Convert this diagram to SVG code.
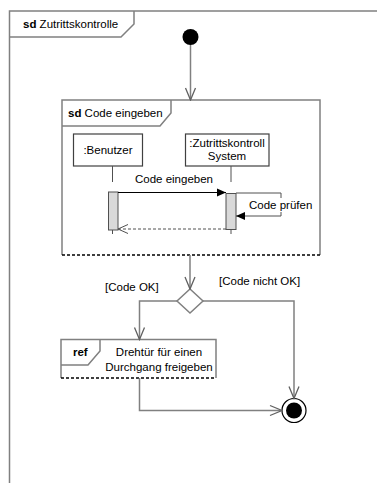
<svg xmlns="http://www.w3.org/2000/svg" width="377" height="483" viewBox="0 0 377 483">
<style>
text{font-family:"Liberation Sans",Arial,sans-serif;font-size:11.5px;fill:#000}
.b{font-weight:bold}
.fr{fill:none;stroke:#808080;stroke-width:1.5}
.box{fill:#fff;stroke:#404040;stroke-width:1.2}
.flow{fill:none;stroke:#808080;stroke-width:1.5}
.dash{fill:none;stroke:#000;stroke-width:1.5;stroke-dasharray:3,2}
.act{fill:#d9d9d9;stroke:#505050;stroke-width:1}
.ll{fill:none;stroke:#505050;stroke-width:1}
</style>
<defs>
<marker id="open" markerUnits="userSpaceOnUse" markerWidth="14" markerHeight="14" viewBox="0 0 14 14" refX="13" refY="7" orient="auto">
<path d="M1,2 L13,7 L1,12" fill="none" stroke="#606060" stroke-width="1.3"/>
</marker>
<marker id="fill" markerUnits="userSpaceOnUse" markerWidth="10" markerHeight="10" viewBox="0 0 10 10" refX="9" refY="5" orient="auto">
<path d="M0,1 L9,5 L0,9 Z" fill="#000"/>
</marker>
<marker id="ret" markerUnits="userSpaceOnUse" markerWidth="12" markerHeight="12" viewBox="0 0 12 12" refX="11" refY="6" orient="auto">
<path d="M1,1.5 L11,6 L1,10.5" fill="none" stroke="#505050" stroke-width="1"/>
</marker>
</defs>
<rect width="377" height="483" fill="#fff"/>

<g id="frame-main">
<path class="fr" d="M377,11 L9.5,11 L9.5,483"/>
<path class="fr" d="M9.5,37 L121,37 L134,24 L134,11"/>
<text x="23" y="28"><tspan class="b">sd</tspan> Zutrittskontrolle</text>
</g>

<g id="start">
<circle cx="190.5" cy="37" r="8" fill="#000"/>
</g>

<g id="frame-code">
<path class="fr" d="M62,255 L62,100 L320,100 L320,255"/>
<line class="dash" x1="62" y1="255" x2="320" y2="255"/>
<path class="fr" d="M62,126 L160,126 L171,113 L171,100"/>
<text x="68" y="117"><tspan class="b">sd</tspan> Code eingeben</text>
</g>

<g id="benutzer">
<rect class="box" x="73.5" y="134" width="69" height="32"/>
<text x="108" y="154" text-anchor="middle">:Benutzer</text>
<line class="ll" x1="112.5" y1="166" x2="112.5" y2="182"/>
<line class="ll" x1="112.5" y1="230" x2="112.5" y2="234"/>
<rect class="act" x="108.5" y="192" width="9.5" height="38"/>
</g>

<g id="system">
<rect class="box" x="185.5" y="134" width="83.5" height="32"/>
<text x="227" y="147" text-anchor="middle">:Zutrittskontroll</text>
<text x="227" y="160" text-anchor="middle">System</text>
<line class="ll" x1="231" y1="166" x2="231" y2="182"/>
<line class="ll" x1="231" y1="229.5" x2="231" y2="234"/>
<rect class="act" x="226" y="193.5" width="10" height="36"/>
</g>

<g id="decision">
<path d="M190,289 L203,301 L190,313 L177,301 Z" fill="#fff" stroke="#808080" stroke-width="1.5"/>
</g>

<g id="ref">
<path d="M61,378 L61,339.5 L216,339.5 L216,378" fill="#fff" stroke="#808080" stroke-width="1.5"/>
<line class="dash" x1="61" y1="378" x2="216" y2="378"/>
<path class="fr" d="M61,365 L88,365 L100,351 L100,339.5"/>
<text x="73" y="356" class="b">ref</text>
<text x="159" y="356" text-anchor="middle">Drehtür für einen</text>
<text x="159" y="371" text-anchor="middle">Durchgang freigeben</text>
</g>

<g id="final">
<circle cx="294" cy="410.5" r="12" fill="#fff" stroke="#000" stroke-width="1.2"/>
<circle cx="294" cy="410.5" r="8" fill="#000"/>
</g>

<g id="connectors">
<line class="flow" x1="190.5" y1="45" x2="190.5" y2="100" marker-end="url(#open)"/>
<line x1="118" y1="192.5" x2="226" y2="192.5" stroke="#000" stroke-width="1.2" marker-end="url(#fill)"/>
<text x="174" y="183" text-anchor="middle">Code eingeben</text>
<path d="M236,193 L281,193 L281,216 L236,216" fill="none" stroke="#505050" stroke-width="1" marker-end="url(#fill)"/>
<rect x="248" y="198" width="64" height="14" fill="#fff"/>
<text x="249" y="209">Code prüfen</text>
<line x1="226" y1="229" x2="118" y2="229" stroke="#505050" stroke-width="1" stroke-dasharray="3,2" marker-end="url(#ret)"/>
<line class="flow" x1="190" y1="255" x2="190" y2="289" marker-end="url(#open)"/>
<text x="105" y="291">[Code OK]</text>
<text x="219" y="285">[Code nicht OK]</text>
<path class="flow" d="M177,301 L139.5,301 L139.5,339.5" marker-end="url(#open)"/>
<path class="flow" d="M203,301 L294,301 L294,398.5" marker-end="url(#open)"/>
<path class="flow" d="M139.5,378 L139.5,410.5 L282,410.5" marker-end="url(#open)"/>
</g>
</svg>
